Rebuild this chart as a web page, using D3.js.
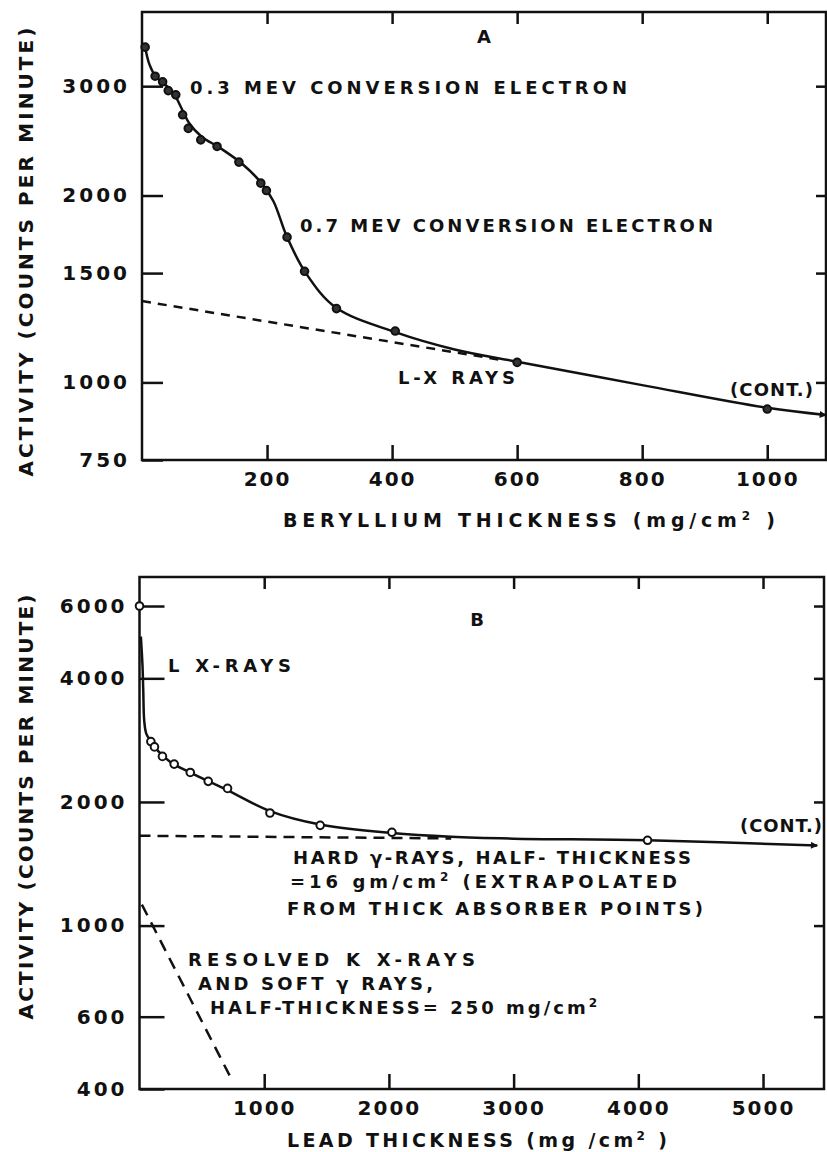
<!DOCTYPE html>
<html>
<head>
<meta charset="utf-8">
<script src="https://cdn.jsdelivr.net/npm/d3@7"></script>
<style>
body { margin: 0; background: #fff; }
text { font-family: "DejaVu Sans", sans-serif; font-weight: bold; fill: #111; }
</style>
</head>
<body>
<div id="chart"></div>
<script>

// Panel A - beryllium absorber
var berylliumX = [5, 21, 33, 42, 54, 65, 74, 94, 120, 155, 190, 199, 232, 260, 311, 405, 600, 1000];
var berylliumCounts = [3467, 3113, 3049, 2951, 2905, 2698, 2565, 2458, 2399, 2264, 2094, 2037, 1714, 1510, 1315, 1210, 1077, 906];
var berylliumCurveX = [5, 12, 22, 35, 50, 62, 75, 95, 125, 160, 190, 210, 232, 262, 310, 405, 500, 600, 800, 1000, 1094];
var berylliumCurveY = [3467, 3250, 3110, 3030, 2930, 2780, 2620, 2490, 2385, 2250, 2100, 1960, 1714, 1500, 1320, 1205, 1130, 1080, 990, 910, 886];
var berylliumLxX = [0, 570];
var berylliumLxY = [1352, 1089];
var berylliumXTicks = [200, 400, 600, 800, 1000];
var berylliumYTicks = [750, 1000, 1500, 2000, 3000];

// Panel B - lead absorber
var leadX = [0, 91, 120, 184, 278, 407, 551, 706, 1046, 1449, 2024, 4074];
var leadCounts = [6000, 2806, 2723, 2582, 2473, 2360, 2245, 2158, 1880, 1754, 1687, 1613];
var leadCurveX = [11, 24, 30, 38, 55, 91, 150, 250, 400, 700, 1046, 1449, 2024, 2500, 3000, 4074, 5435];
var leadCurveY = [5057, 4300, 3750, 3150, 2930, 2815, 2660, 2500, 2365, 2140, 1900, 1762, 1680, 1645, 1628, 1613, 1566];
var leadHardX = [0, 2500];
var leadHardY = [1655, 1630];
var leadSoftX = [19, 746];
var leadSoftY = [1125, 418];
var leadXTicks = [1000, 2000, 3000, 4000, 5000];
var leadYTicks = [400, 600, 1000, 2000, 4000, 6000];

var svgWidth = 827;
var svgHeight = 1152;

var svg = d3.select("#chart")
  .append("svg")
  .attr("width", svgWidth)
  .attr("height", svgHeight);

svg.append("rect").attr("width", svgWidth).attr("height", svgHeight).attr("fill", "#fff");

svg.append("defs").append("marker")
  .attr("id", "arrow")
  .attr("viewBox", "0 0 10 10")
  .attr("refX", 9)
  .attr("refY", 5)
  .attr("markerUnits", "userSpaceOnUse")
  .attr("markerWidth", 15)
  .attr("markerHeight", 7)
  .attr("orient", "auto")
  .append("path")
  .attr("d", "M0,0 L10,5 L0,10 z")
  .attr("fill", "#111");

// text helper, "²" becomes a raised 2
function label(txt, x, y, len, size, anchor) {
  var t = svg.append("text")
    .attr("x", x)
    .attr("y", y)
    .attr("font-size", size || 18)
    .attr("text-anchor", anchor || "start");
  var parts = txt.split("²");
  parts.forEach(function(p, i) {
    t.append("tspan").attr("dy", i > 0 ? 7 : null).text(p);
    if (i < parts.length - 1) {
      t.append("tspan").attr("dy", -7).attr("font-size", 12).text("2");
    }
  });
  if (len) t.attr("textLength", len).attr("lengthAdjust", "spacing");
  return t;
}

function drawPanel(p) {
  var x = p.x, y = p.y;
  var x0 = x.range()[0], x1 = x.range()[1];
  var yb = y.range()[0], yt = y.range()[1];

  // bottom axis with labels
  svg.append("g")
    .attr("transform", `translate(0, ${yb})`)
    .call(d3.axisBottom(x).tickValues(p.xTicks).tickSizeInner(-15).tickSizeOuter(0).tickPadding(12).tickFormat(d3.format("d")))
    .call(g => g.select(".domain").remove())
    .call(g => g.selectAll("text").attr("font-size", 20).attr("letter-spacing", 2));

  // left axis with labels
  svg.append("g")
    .attr("transform", `translate(${x0}, 0)`)
    .call(d3.axisLeft(y).tickValues(p.yTicks).tickSizeInner(-p.leftTick).tickSizeOuter(0).tickPadding(12).tickFormat(d3.format("d")))
    .call(g => g.select(".domain").remove())
    .call(g => g.selectAll("text").attr("font-size", 20).attr("letter-spacing", 3));

  // top and right ticks, no labels
  svg.append("g")
    .attr("transform", `translate(0, ${yt})`)
    .call(d3.axisTop(x).tickValues(p.xTicks).tickSizeInner(-12).tickSizeOuter(0).tickFormat(""))
    .call(g => g.select(".domain").remove());

  svg.append("g")
    .attr("transform", `translate(${x1}, 0)`)
    .call(d3.axisRight(y).tickValues(p.yTicks.filter(v => v > y.domain()[0])).tickSizeInner(-10).tickSizeOuter(0).tickFormat(""))
    .call(g => g.select(".domain").remove());

  svg.selectAll(".tick line").attr("stroke", "#111").attr("stroke-width", 2.5);

  svg.append("rect")
    .attr("x", x0).attr("y", yt)
    .attr("width", x1 - x0).attr("height", yb - yt)
    .attr("fill", "none")
    .attr("stroke", "#111")
    .attr("stroke-width", 2.5);

  var line = d3.line()
    .x(d => x(d[0]))
    .y(d => y(d[1]));

  p.dashed.forEach(function(d) {
    svg.append("path")
      .datum(d3.zip(d.xs, d.ys))
      .attr("d", line)
      .attr("fill", "none")
      .attr("stroke", "#111")
      .attr("stroke-width", 2.5)
      .attr("stroke-dasharray", d.dash);
  });

  svg.append("path")
    .datum(d3.zip(p.curveX, p.curveY))
    .attr("d", line.curve(d3.curveCatmullRom.alpha(0.5)))
    .attr("fill", "none")
    .attr("stroke", "#111")
    .attr("stroke-width", 2.5)
    .attr("marker-end", "url(#arrow)");

  svg.append("g")
    .selectAll("circle")
    .data(d3.zip(p.pointX, p.pointY))
    .enter()
    .append("circle")
    .attr("cx", d => x(d[0]))
    .attr("cy", d => y(d[1]))
    .attr("r", 3.8)
    .attr("fill", p.pointFill)
    .attr("stroke", "#111")
    .attr("stroke-width", 2);
}

// Panel A
var xA = d3.scaleLinear().domain([0, 1094]).range([142, 826]);
var yA = d3.scaleLog().domain([750, 3950]).range([460, 12]);

drawPanel({
  x: xA, y: yA,
  xTicks: berylliumXTicks, yTicks: berylliumYTicks, leftTick: 21,
  curveX: berylliumCurveX, curveY: berylliumCurveY,
  pointX: berylliumX, pointY: berylliumCounts, pointFill: "#333",
  dashed: [{xs: berylliumLxX, ys: berylliumLxY, dash: "9,7"}]
});

label("A", 484, 43, null, 18, "middle");
label("0.3  MEV   CONVERSION   ELECTRON", 190, 94, 437);
label("0.7 MEV  CONVERSION  ELECTRON", 300, 232, 413);
label("L-X RAYS", 398, 384, 117);
label("(CONT.)", 730, 396, 83);
label("BERYLLIUM   THICKNESS (mg/cm² )", 283, 527, 492, 19);
label("ACTIVITY  (COUNTS PER MINUTE)", 0, 0, 449, 20, "middle")
  .attr("transform", "translate(33, 252) rotate(-90)");

// Panel B
var xB = d3.scaleLinear().domain([0, 5489]).range([139.5, 824]);
var yB = d3.scaleLog().domain([400, 7060]).range([1089, 577]);

drawPanel({
  x: xB, y: yB,
  xTicks: leadXTicks, yTicks: leadYTicks, leftTick: 25,
  curveX: leadCurveX, curveY: leadCurveY,
  pointX: leadX, pointY: leadCounts, pointFill: "#fff",
  dashed: [
    {xs: leadHardX, ys: leadHardY, dash: "11,7"},
    {xs: leadSoftX, ys: leadSoftY, dash: "12,8"}
  ]
});

label("B", 477, 626, null, 18, "middle");
label("L X-RAYS", 168, 672, 123);
label("(CONT.)", 740, 832, 82);
label("HARD γ-RAYS, HALF- THICKNESS", 293, 864, 398);
label("=16 gm/cm²  (EXTRAPOLATED", 290, 888, 387);
label("FROM THICK ABSORBER POINTS)", 287, 915, 416);
label("RESOLVED K X-RAYS", 188, 966, 287);
label("AND SOFT γ RAYS,", 198, 990, 235);
label("HALF-THICKNESS= 250 mg/cm²", 210, 1014, 387);
label("LEAD  THICKNESS  (mg /cm² )", 287, 1147, 380, 19);
label("ACTIVITY  (COUNTS PER MINUTE)", 0, 0, 425, 20, "middle")
  .attr("transform", "translate(33, 807) rotate(-90)");

</script>
</body>
</html>
